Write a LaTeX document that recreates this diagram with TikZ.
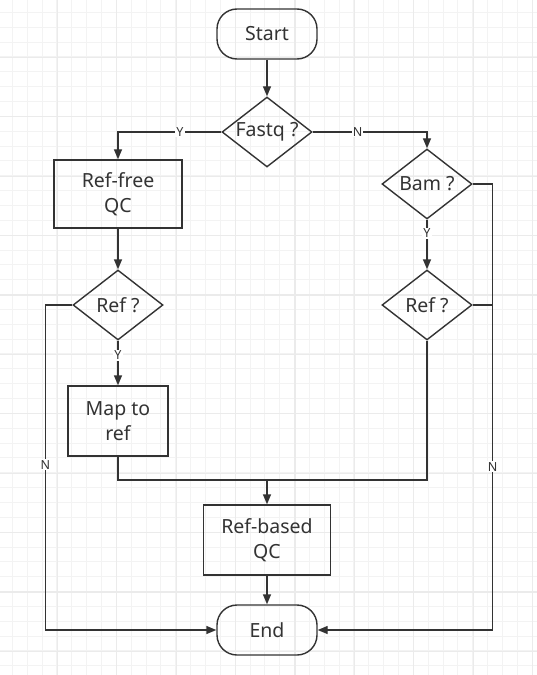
\documentclass[tikz,border=0pt]{standalone}
\usepackage{fontspec}
\setmainfont{Noto Sans}
\usetikzlibrary{shapes.geometric,arrows.meta}
\definecolor{ink}{HTML}{333333}
\definecolor{gridminor}{HTML}{F3F3F3}
\definecolor{gridmajor}{HTML}{EBEBEB}
\tikzset{
  box/.style={draw=ink, line width=1.4bp, rectangle, inner sep=0pt, text=ink,
    align=center, font=\fontsize{19.5bp}{25bp}\selectfont},
  term/.style={box, rounded corners=20bp, minimum width=100bp, minimum height=50bp},
  proc/.style={box},
  dia/.style={draw=ink, line width=1.4bp, diamond, inner sep=0pt,
    minimum width=90bp, minimum height=70bp},
  dtext/.style={text=ink, font=\fontsize{19.5bp}{25bp}\selectfont},
  conn/.style={draw=ink, line width=1.4bp},
  arr/.style={conn, -{Triangle[length=10bp,width=8bp]}},
  lbl/.style={fill=white, text=ink, inner sep=1bp, font=\fontsize{12.5bp}{14bp}\selectfont},
  minorline/.style={draw=gridminor, line width=0.8bp},
  majorline/.style={draw=gridmajor, line width=1.2bp},
}
\begin{document}
\begin{tikzpicture}[x=1bp,y=-1bp]
\useasboundingbox (0,0) rectangle (537,675);
\fill[white] (0,0) rectangle (537,675);
% grid
\foreach \i in {0,...,36} {
  \draw[minorline] ({12.3+\i*14.85},0) -- ++(0,675);
}
\foreach \i in {0,...,45} {
  \draw[minorline] (0,{12.3+\i*14.85}) -- ++(537,0);
}
\foreach \i in {0,...,8} {
  \draw[majorline] ({57.3+\i*59.4},0) -- ++(0,675);
}
\foreach \i in {0,...,10} {
  \draw[majorline] (0,{57.3+\i*59.4}) -- ++(537,0);
}
% nodes
\node[term] (start) at (267,34) {Start};
\node[dia] (fq) at (267,132) {};
\node[dtext] at (fq.center) {Fastq ?};
\node[proc, minimum width=128bp, minimum height=68bp] (rfqc) at (118,194) {Ref-free\\QC};
\node[dia] (bam) at (427,184) {};
\node[dtext] at (bam.center) {Bam ?};
\node[dia] (refL) at (118,305) {};
\node[dtext] at (refL.center) {Ref ?};
\node[dia] (refR) at (427,305) {};
\node[dtext] at (refR.center) {Ref ?};
\node[proc, minimum width=100bp, minimum height=70bp] (map) at (118,421) {Map to\\ref};
\node[proc, minimum width=127bp, minimum height=70bp] (rbqc) at (267,540) {Ref-based\\QC};
\node[term] (end) at (267,630) {End};
\coordinate (j) at (267,480);
% connectors
\draw[arr] (start) -- (fq);
\draw[arr] (fq.west) -| node[lbl, pos=0.2] {Y} (rfqc.north);
\draw[arr] (fq.east) -| node[lbl, pos=0.196] {N} (bam.north);
\draw[arr] (rfqc.south) -- (refL.north);
\draw[arr] (refL.south) -- node[lbl, pos=0.33] {Y} (map.north);
\draw[arr] (bam.south) -- node[lbl, pos=0.27] {Y} (refR.north);
\draw[arr] (refL.west) -- ++(-27,0) |- node[lbl, pos=0.246] {N} (end.west);
\draw[arr] (bam.east) -- ++(20,0) |- node[lbl, pos=0.317] {N} (end.east);
\draw[conn] (refR.east) -- ++(20,0);
\draw[conn] (refR.south) |- (j);
\draw[conn] (map.south) |- (j);
\draw[arr] (j) -- (rbqc.north);
\draw[arr] (rbqc.south) -- (end.north);
\end{tikzpicture}
\end{document}
